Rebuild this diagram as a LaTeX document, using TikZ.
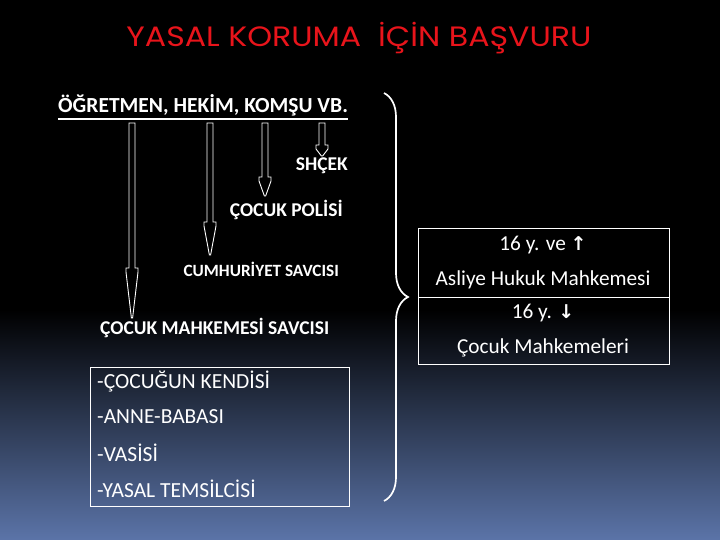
\documentclass[tikz,border=0pt]{standalone}
\usepackage{fontspec}
\setmainfont{Carlito}
\newfontfamily\titlefont{Poppins}
\newfontfamily\symfont{DejaVu Sans}
\usetikzlibrary{calc,decorations.pathreplacing}
\definecolor{titlered}{HTML}{E8141B}
\definecolor{bgblue}{HTML}{5B74A8}
\tikzset{
  lbl/.style={text=white, inner sep=0pt, font=\bfseries\fontsize{19.5}{22}\selectfont},
  item/.style={text=white, inner sep=0pt, anchor=west, font=\fontsize{21.5}{24}\selectfont},
  cell/.style={text=white, inner sep=0pt, font=\fontsize{21.3}{24}\selectfont},
  blockarr/.style={draw=white, fill=black, line width=0.9pt, line join=miter},
  frame/.style={draw=white, line width=0.9pt},
}
\newcommand\blockarr[4]{% x, ytop, yhead, ytip
  \draw[blockarr] (#1-3,#2) -- (#1+3,#2) -- (#1+3,#3) -- (#1+6,#3) -- (#1+6,#3+4)
    -- (#1+0.6,#4) -- (#1-0.6,#4) -- (#1-6,#3+4) -- (#1-6,#3) -- (#1-3,#3) -- cycle;}
\begin{document}
\begin{tikzpicture}[x=1pt,y=-1pt]
\useasboundingbox (0,0) rectangle (720,540);
\fill[black] (0,0) rectangle (720,310);
\shade[top color=black, bottom color=bgblue] (0,309.5) rectangle (720,540);
% title
\node[text=titlered, inner sep=0pt, font=\titlefont\fontsize{28}{32}\selectfont] (title) at (359,38) {\scalebox{1.13}[1]{YASAL KORUMA\ \ İÇİN BAŞVURU}};
% header
\node[lbl, anchor=west, font=\bfseries\fontsize{21.5}{24}\selectfont] (hdr) at (58,105) {ÖĞRETMEN, HEKİM, KOMŞU VB.};
\draw[white, line width=2pt] (hdr.south west) ++(0,3) coordinate (ul1) -- (ul1 -| hdr.south east);
% targets
\node[lbl, anchor=east] (shcek) at (348,166) {SHÇEK};
\node[lbl, anchor=east] (polis) at (343,210) {ÇOCUK POLİSİ};
\node[lbl, anchor=east, font=\bfseries\fontsize{17.2}{20}\selectfont] (cumh) at (339,269) {CUMHURİYET SAVCISI};
\node[lbl, anchor=west] (cms) at (100,328) {ÇOCUK MAHKEMESİ SAVCISI};
% block arrows
\blockarr{132}{123}{268}{318}
\blockarr{210}{123}{222}{255}
\blockarr{265}{123}{177}{196}
\blockarr{322}{123}{145}{156}
% left box
\node[frame, minimum width=259pt, minimum height=139pt, inner sep=0pt] (lbox) at (219.5,436.5) {};
\node[item] (i1) at (97,382) {-ÇOCUĞUN KENDİSİ};
\node[item] (i2) at (97,417) {-ANNE-BABASI};
\node[item] (i3) at (97,453) {-VASİSİ};
\node[item] (i4) at (97,489) {-YASAL TEMSİLCİSİ};
% right box
\node[frame, minimum width=251pt, minimum height=69pt, inner sep=0pt] (rtop) at (543.5,262.5) {};
\node[frame, minimum width=251pt, minimum height=67pt, inner sep=0pt] (rbot) at (543.5,330.5) {};
\node[cell] (c1) at (543,245) {16 y. ve {\symfont\bfseries\fontsize{19}{22}\selectfont ↑}};
\node[cell] (c2) at (543,280) {Asliye Hukuk Mahkemesi};
\node[cell] (c3) at (543,313) {16 y. {\symfont\bfseries\fontsize{19}{22}\selectfont ↓}};
\node[cell] (c4) at (543,348) {Çocuk Mahkemeleri};
% brace
\coordinate (bt) at (384,93);
\coordinate (bb) at (384,501);
\draw[white, line width=1.7pt, decorate, decoration={brace, amplitude=24pt, aspect=0.5}] (bt) -- (bb);
\end{tikzpicture}
\end{document}
